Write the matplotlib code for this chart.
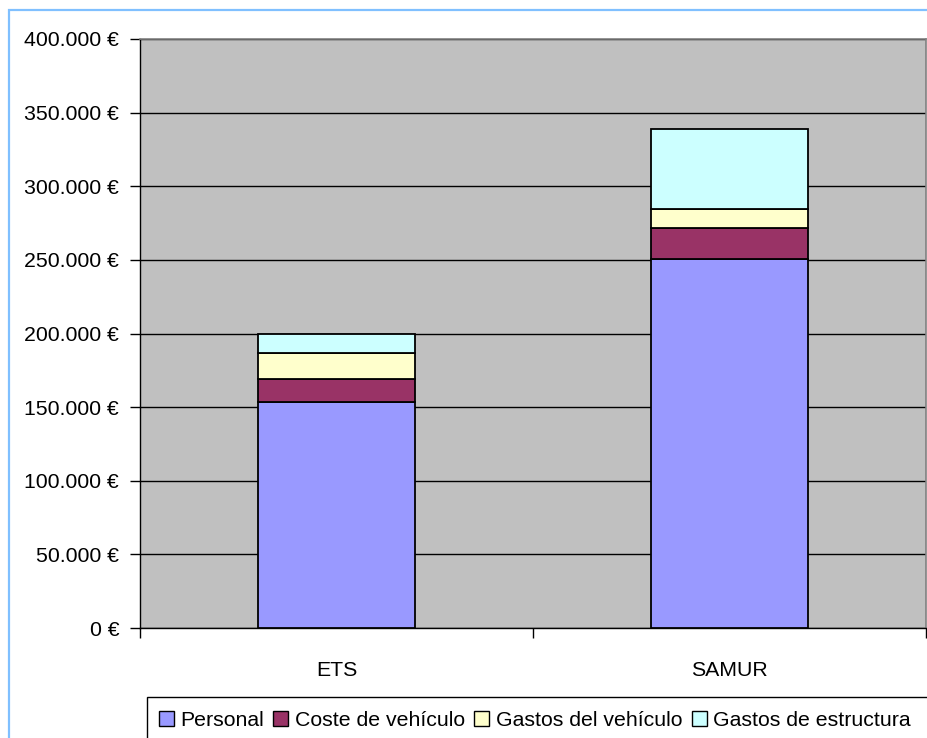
import matplotlib
matplotlib.use("Agg")
import matplotlib.pyplot as plt
from matplotlib.patches import Rectangle, Patch
from matplotlib.ticker import FuncFormatter, MultipleLocator, FixedLocator

plt.rcParams['font.family'] = ['Liberation Sans', 'DejaVu Sans']

categories = ["ETS", "SAMUR"]
series_names = ["Personal", "Coste de vehículo", "Gastos del vehículo", "Gastos de estructura"]
personal = [153700, 250800]
coste_vehiculo = [15700, 20850]
gastos_vehiculo = [17400, 12900]
gastos_estructura = [13200, 54130]
colors = ["#9999ff", "#993366", "#ffffcc", "#ccffff"]

W, H = 927, 738
FS = 15.3
fig = plt.figure(figsize=(W / 100, H / 100), dpi=100)

def px(x0, y0, x1, y1):
    return [x0 / W, 1 - y1 / H, (x1 - x0) / W, (y1 - y0) / H]

# outer chart border (light blue)
fig.patches.append(Rectangle((9 / W, 1 - 1.2), 1.5, 1.2 - 10 / H, transform=fig.transFigure,
                             fill=False, edgecolor="#80c0ff", linewidth=1.6, zorder=0))

ax = fig.add_axes(px(140, 39, 926, 628))
ax.set_facecolor("#c0c0c0")
for s in ["top", "right"]:
    ax.spines[s].set_color("#808080")
    ax.spines[s].set_linewidth(1.2)
for s in ["left", "bottom"]:
    ax.spines[s].set_color("black")
    ax.spines[s].set_linewidth(1.0)

x = list(range(len(categories)))
bottom = [0] * len(categories)
series = [personal, coste_vehiculo, gastos_vehiculo, gastos_estructura]
for name, vals, c in zip(series_names, series, colors):
    ax.bar(x, vals, bottom=bottom, width=0.4, color=c, edgecolor="black", linewidth=1.3,
           label=name, zorder=3)
    bottom = [b + v for b, v in zip(bottom, vals)]

ax.set_xlim(-0.5, 1.5)
ax.set_ylim(0, 400000)
ax.yaxis.set_major_locator(MultipleLocator(50000))
ax.yaxis.set_major_formatter(FuncFormatter(lambda v, p: f"{int(v):,}".replace(",", ".") + " €"))
ax.yaxis.grid(True, color="black", linewidth=1.0, zorder=1)
ax.set_axisbelow(True)
ax.tick_params(axis="y", direction="out", length=7, width=1, labelsize=FS, pad=8)

ax.set_xticks(x)
ax.set_xticklabels(categories)
ax.xaxis.set_minor_locator(FixedLocator([-0.5, 0.5, 1.5]))
ax.tick_params(axis="x", which="major", length=0, labelsize=FS, pad=24)
ax.tick_params(axis="x", which="minor", direction="out", length=7, width=1)

handles = [Patch(facecolor=c, edgecolor="black", linewidth=1.0, label=n)
           for n, c in zip(series_names, colors)]
fig.legend(handles=handles, loc="upper left", bbox_to_anchor=(144 / W, 1 - 696 / H),
           ncol=4, frameon=False, fontsize=FS, handlelength=0.7, handleheight=0.7,
           handletextpad=0.3, columnspacing=0.45, borderpad=0.2)
fig.patches.append(Rectangle((147 / W, 1 - 760 / H), 1.0, 63 / H, transform=fig.transFigure,
                             fill=False, edgecolor="black", linewidth=1.0))

fig.savefig("out.png", dpi=100)
